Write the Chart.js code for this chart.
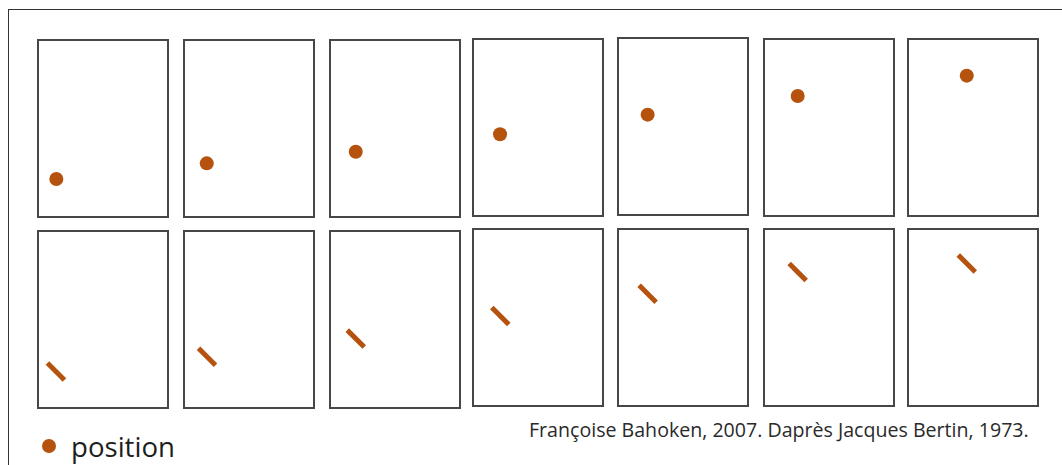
<!DOCTYPE html>
<html>
<head>
<meta charset="utf-8">
<script src="https://cdn.jsdelivr.net/npm/chart.js@4/dist/chart.umd.min.js"></script>
<style>
  html, body { margin: 0; padding: 0; background: #fff; }
  body { width: 1062px; height: 465px; position: relative; overflow: hidden; font-family: "Open Sans", sans-serif; }
  #frame { position: absolute; left: 8px; top: 9px; width: 1070px; height: 480px; border-left: 1.5px solid #333; border-top: 1.5px solid #333; }
  .panel { position: absolute; }
  #legend { position: absolute; left: 42px; top: 428px; height: 36px; display: flex; align-items: center; color: #1e1e1e; font-size: 27.6px; line-height: 28px; }
  #legend .dot { width: 14px; height: 14px; border-radius: 50%; background: #b4520e; margin-right: 15px; }
  #caption { position: absolute; left: 529px; top: 420px; font-size: 19.6px; line-height: 20px; color: #2a2a2a; white-space: nowrap; }
</style>
</head>
<body>
<div id="frame"></div>
<div id="legend"><span class="dot"></span><span>position</span></div>
<div id="caption">Françoise Bahoken, 2007. Daprès Jacques Bertin, 1973.</div>
<script>
// ---- data (percent of panel width / height, measured from bottom-left) ----
const steps = [1, 2, 3, 4, 5, 6, 7];
const pointX = [14.1, 17.5, 19.8, 20.8, 22.8, 25.9, 45.2];
const pointY = [21.5, 30.3, 36.9, 46.2, 56.7, 67.8, 79.3];
const lineX  = [13.8, 17.7, 19.8, 21.0, 22.8, 25.9, 45.2];
const lineY  = [20.6, 29.0, 39.2, 50.8, 63.4, 75.7, 80.5];
const legendLabel = 'position';

// ---- layout (pixels) ----
const colLeft   = [38, 184, 330, 473, 618, 764, 908];
const topRowY   = [40, 40, 40, 39, 38, 39, 39];
const botRowY   = [231, 231, 231, 229, 229, 229, 229];
const panelW = 130, panelH = 177, pad = 2;
const markColor = '#b4520e';
const frameColor = '#474747';

function axis(pos) {
  return {
    type: 'linear', position: pos, min: 0, max: 100, display: true,
    grid: { display: false, drawTicks: false },
    ticks: { display: false },
    border: { display: true, color: frameColor, width: 2 }
  };
}

function makePanel(left, top, x, y, isLine) {
  const div = document.createElement('div');
  div.className = 'panel';
  div.style.left = (left - pad) + 'px';
  div.style.top = (top - pad) + 'px';
  const cv = document.createElement('canvas');
  cv.width = panelW + 2 * pad;
  cv.height = panelH + 2 * pad;
  cv.style.width = cv.width + 'px';
  cv.style.height = cv.height + 'px';
  div.appendChild(cv);
  document.body.appendChild(div);
  new Chart(cv, {
    type: 'scatter',
    data: {
      datasets: [{
        label: legendLabel,
        data: [{ x: x, y: y }],
        pointStyle: isLine ? 'line' : 'circle',
        rotation: isLine ? 45 : 0,
        pointRadius: isLine ? 12 : 7,
        pointHoverRadius: isLine ? 12 : 7,
        backgroundColor: markColor,
        borderColor: markColor,
        borderWidth: isLine ? 5 : 0,
        clip: false
      }]
    },
    options: {
      responsive: false,
      animation: false,
      events: [],
      layout: { padding: pad, autoPadding: false },
      plugins: { legend: { display: false }, tooltip: { enabled: false } },
      scales: {
        x: axis('bottom'),
        x2: axis('top'),
        y: axis('left'),
        y2: axis('right')
      }
    }
  });
}

steps.forEach((s, i) => {
  makePanel(colLeft[i], topRowY[i], pointX[i], pointY[i], false);
  makePanel(colLeft[i], botRowY[i], lineX[i], lineY[i], true);
});
</script>
</body>
</html>
